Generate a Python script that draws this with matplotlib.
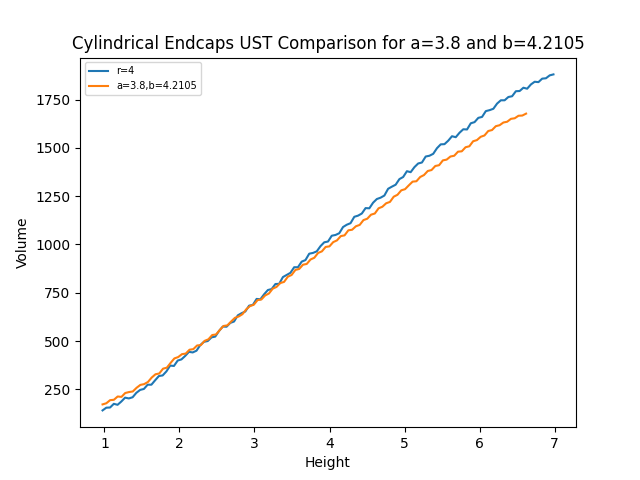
import numpy as np
import matplotlib
matplotlib.use("Agg")
import matplotlib.pyplot as plt

# Heights (x), evenly sampled over the measured span of each series
height_r4 = np.linspace(0.975, 6.985, 121)
height_ab = np.linspace(0.975, 6.62, 113)

volume_r4 = [
    141, 155, 156, 175, 170,
    187, 207, 203, 209, 232,
    247, 252, 274, 274, 297,
    319, 322, 343, 373, 371,
    399, 405, 423, 444, 441,
    450, 479, 496, 500, 519,
    523, 552, 575, 574, 594,
    601, 633, 644, 653, 683,
    687, 718, 716, 742, 764,
    769, 795, 796, 831, 842,
    853, 882, 882, 911, 919,
    952, 956, 964, 991, 1011,
    1015, 1045, 1049, 1058, 1090,
    1102, 1110, 1143, 1149, 1160,
    1188, 1187, 1216, 1235, 1242,
    1253, 1288, 1299, 1309, 1338,
    1349, 1379, 1374, 1400, 1419,
    1424, 1455, 1459, 1469, 1498,
    1518, 1519, 1537, 1560, 1555,
    1578, 1596, 1595, 1627, 1633,
    1655, 1660, 1690, 1695, 1702,
    1729, 1746, 1746, 1763, 1767,
    1793, 1794, 1811, 1806, 1828,
    1842, 1840, 1858, 1860, 1875, 1880,
]

volume_ab = [
    172, 178, 194, 196, 213,
    211, 231, 236, 239, 258,
    273, 277, 288, 311, 328,
    332, 357, 362, 387, 410,
    417, 432, 435, 455, 458,
    477, 479, 501, 509, 531,
    534, 557, 578, 581, 601,
    620, 627, 639, 664, 681,
    688, 712, 715, 736, 746,
    771, 780, 800, 806, 833,
    842, 868, 873, 895, 899,
    922, 931, 956, 964, 987,
    990, 1012, 1021, 1043, 1047,
    1073, 1076, 1094, 1101, 1126,
    1133, 1154, 1160, 1187, 1195,
    1213, 1220, 1247, 1257, 1280,
    1286, 1306, 1325, 1327, 1349,
    1359, 1380, 1385, 1406, 1410,
    1435, 1439, 1455, 1459, 1480,
    1482, 1503, 1508, 1534, 1540,
    1557, 1564, 1587, 1592, 1612,
    1617, 1631, 1635, 1650, 1653,
    1666, 1667, 1677,
]

labels = ["r=4", "a=3.8,b=4.2105"]

fig, ax = plt.subplots(figsize=(6.4, 4.8), dpi=100)
ax.plot(height_r4, volume_r4, label=labels[0])
ax.plot(height_ab, volume_ab, label=labels[1])
ax.set_title("Cylindrical Endcaps UST Comparison for a=3.8 and b=4.2105")
ax.set_xlabel("Height")
ax.set_ylabel("Volume")
ax.legend(loc="upper left", fontsize=7)
fig.savefig("out.png", dpi=100)
